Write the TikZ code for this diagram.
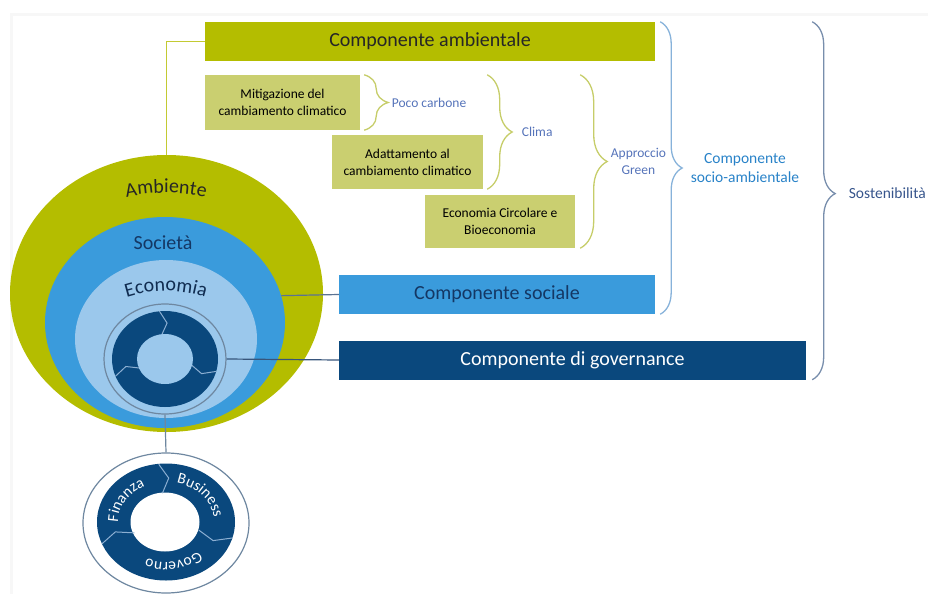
\documentclass[tikz,border=0pt]{standalone}
\usepackage{fontspec}
\setmainfont{Carlito}
\usetikzlibrary{positioning, shapes.geometric, decorations.pathreplacing, decorations.text, calc}

\definecolor{ambgreen}{RGB}{180,189,0}
\definecolor{boxgreen}{RGB}{202,207,112}
\definecolor{bracegreen}{RGB}{198,205,105}
\definecolor{socblue}{RGB}{58,155,220}
\definecolor{ecoblue}{RGB}{155,200,236}
\definecolor{govblue}{RGB}{10,72,125}
\definecolor{braceblue}{RGB}{135,178,218}
\definecolor{sostgray}{RGB}{120,142,172}
\definecolor{labelblue}{RGB}{85,115,185}
\definecolor{sociolabel}{RGB}{40,130,200}
\definecolor{sostlabel}{RGB}{55,85,140}
\definecolor{socnavy}{RGB}{20,55,100}
\definecolor{sepblue}{RGB}{140,175,210}
\definecolor{ringgray}{RGB}{110,135,160}

\begin{document}
\begin{tikzpicture}[x=1pt, y=1pt,
    bigfont/.style={font=\fontsize{20}{24}\selectfont},
    smallfont/.style={font=\fontsize{13.5}{17}\selectfont},
    bar/.style={bigfont, minimum height=39pt, inner sep=0pt},
    subbox/.style={smallfont, fill=boxgreen, align=center, inner sep=0pt},
    disc/.style={ellipse, inner sep=0pt},
    curly/.style={decorate, decoration={brace, amplitude=#1}, line width=1.3pt},
    bracelabel/.style={smallfont, text=labelblue, inner sep=0pt, align=center},
    sepline/.style={sepblue, line width=1pt},
    ringtext/.style={decorate, decoration={text along path, text align=center,
      text={|\fontsize{15.5}{15.5}\selectfont\color{white}|#1}}}]
    \useasboundingbox (0,0) rectangle (928,-594);

    % faint frame
    \draw[black!3, line width=3pt] (11,-594) -- (11,-15) -- (928,-15);

    % Circles
    \node[disc, fill=ambgreen, minimum width=313pt, minimum height=277pt] (amb) at (166.5,-293.5) {};
    \node[disc, fill=socblue, minimum width=240pt, minimum height=211pt] (soc) at (165,-322.5) {};
    \node[disc, fill=ecoblue, minimum width=182pt, minimum height=158pt] (eco) at (166,-339) {};

    % Labels of the circles
    \path[decorate, decoration={text along path, text align=center,
      text={|\fontsize{20}{20}\selectfont\color{black!85}|Ambiente}}]
      ($(166,-385)+(115:192)$) arc[start angle=115, end angle=65, radius=192];
    \node[bigfont, text=socnavy] (soclabel) at (163,-242.5) {Società};
    \path[decorate, decoration={text along path, text align=center,
      text={|\fontsize{20}{20}\selectfont\color{socnavy!80!black}|Economia}}]
      ($(166,-421)+(120:130)$) arc[start angle=120, end angle=60, radius=130];

    % Governance ring (small)
    \node[disc, fill=ecoblue, draw=ringgray, line width=1.2pt, minimum width=122pt, minimum height=110pt] (gring) at (165,-359) {};
    \node[disc, fill=govblue, minimum width=106pt, minimum height=96pt] (gdark) at (165,-359) {};
    \node[disc, fill=ecoblue, minimum width=56pt, minimum height=50pt] (ghole) at (165,-359) {};
    \foreach \a in {96,-15,201}
      \draw[sepline] ($(gdark.center)+(\a:28 and 25)$) -- ($(gdark.center)+({\a-9}:40 and 36)$)
        -- ($(gdark.center)+(\a:53 and 48)$);

    % Governance ring (large)
    \node[disc, fill=white, draw=ringgray, line width=1.2pt, minimum width=166pt, minimum height=140pt] (fring) at (166,-523) {};
    \node[disc, fill=govblue, minimum width=138pt, minimum height=117pt] (fdark) at (166,-522) {};
    \node[disc, fill=white, minimum width=69pt, minimum height=59pt] (fhole) at (165,-522) {};
    \foreach \a in {96,-16,202}
      \draw[sepline] ($(fdark.center)+(\a:34 and 29)$) -- ($(fdark.center)+({\a-9}:52 and 44)$)
        -- ($(fdark.center)+(\a:69 and 58)$);
    \path[ringtext={Finanza}] ($(fdark.center)+(210:48 and 40)$)
      arc[start angle=210, end angle=90, x radius=48, y radius=40];
    \path[ringtext={Business}] ($(fdark.center)+(95:48 and 40)$)
      arc[start angle=95, end angle=-15, x radius=48, y radius=40];
    \path[ringtext={Governo}] ($(fdark.center)+(-25:48 and 40)$)
      arc[start angle=-25, end angle=-135, x radius=48, y radius=40];

    % Bars
    \node[bar, fill=ambgreen, minimum width=450pt, text=black!85] (ambbar) at (430,-41.5) {Componente ambientale};
    \node[bar, fill=socblue, minimum width=316pt, text=socnavy] (socbar) at (497,-294.5) {Componente sociale};
    \node[bar, fill=govblue, minimum width=467pt, text=white] (govbar) at (572.5,-360) {Componente di governance};

    % Green sub-boxes
    \node[subbox, minimum width=155pt, minimum height=55pt] (mitig) at (282.5,-102.5) {Mitigazione del\\cambiamento climatico};
    \node[subbox, minimum width=151pt, minimum height=54pt] (adatt) at (407.5,-162) {Adattamento al\\cambiamento climatico};
    \node[subbox, minimum width=150pt, minimum height=53pt] (circ) at (500,-221.5) {Economia Circolare e\\Bioeconomia};

    % Connectors
    \draw[ambgreen!80!white, line width=1.5pt] (amb.north) |- (ambbar.west);
    \draw[socnavy!70, line width=1.2pt] (soc.13) -- (socbar.west);
    \draw[socnavy!85, line width=1.2pt] (gring.east) -- (govbar.west);
    \draw[ringgray, line width=1.2pt] (gring.south) -- (fring.north);

    % Braces
    \draw[curly=24, bracegreen] ([xshift=4pt]mitig.north east) -- ([xshift=4pt]mitig.south east)
      node[bracelabel, midway, right=27pt] (poco) {Poco carbone};
    \draw[curly=25, bracegreen] ([xshift=4pt]adatt.east |- mitig.north) -- ([xshift=4pt]adatt.south east)
      node[bracelabel, midway, right=34pt] (clima) {Clima};
    \draw[curly=27, bracegreen] ([xshift=5pt]circ.east |- mitig.north) -- ([xshift=5pt]circ.south east)
      node[bracelabel, midway, right=30pt] (green) {Approccio\\Green};
    \draw[curly=22, braceblue] ([xshift=5pt]ambbar.north east) -- ([xshift=5pt]ambbar.east |- socbar.south)
      node[bracelabel, midway, right=30pt, text=sociolabel, font=\fontsize{15.5}{19}\selectfont] (socio) {Componente\\socio-ambientale};
    \draw[decorate, decoration={brace, amplitude=23, aspect=0.48}, line width=1.3pt, sostgray]
      ([xshift=6pt]govbar.east |- ambbar.north) -- ([xshift=6pt]govbar.south east)
      node[bracelabel, pos=0.48, right=36pt, text=sostlabel, font=\fontsize{15.5}{19}\selectfont] (sost) {Sostenibilità};
  \end{tikzpicture}
\end{document}
